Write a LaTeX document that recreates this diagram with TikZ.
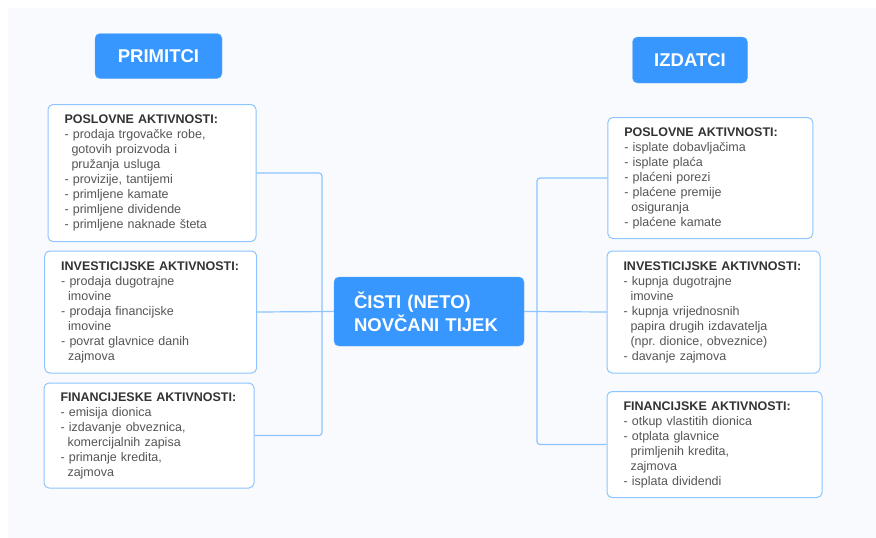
\documentclass[tikz,border=0pt]{standalone}
\usepackage{fontspec}
\setmainfont{Liberation Sans}
\usetikzlibrary{positioning}
\usetikzlibrary{calc}
\usepackage{xcolor}
\frenchspacing

\definecolor{mainblue}{HTML}{3797FF}
\definecolor{lineblue}{HTML}{8EC5FF}
\definecolor{panelbg}{HTML}{F8FAFE}
\definecolor{headtext}{HTML}{333333}
\definecolor{bodytext}{HTML}{555555}

\newcommand{\ind}{\hspace*{7pt}}
\newcommand{\head}[1]{{\bfseries\color{headtext}#1}}

\tikzset{
  actbox/.style={draw=lineblue, line width=1pt, fill=white, rounded corners=5pt,
    align=left, inner xsep=16.5pt, inner ysep=0pt, text=bodytext,
    font=\fontsize{12.5}{15}\selectfont},
  titlebox/.style={fill=mainblue, draw=mainblue!80!white, rounded corners=5pt,
    text=white, font=\fontsize{18.5}{22.7}\selectfont\bfseries},
  link/.style={draw=lineblue, line width=1.2pt, rounded corners=3pt}
}

\begin{document}
\begin{tikzpicture}[x=1pt,y=-1pt]
      % Background
      \useasboundingbox (0,0) rectangle (876,538);
      \fill[panelbg] (8,8) rectangle (876,538);

      % Titles
      \node[titlebox, minimum width=127pt, minimum height=45pt] (prim) at (158.5,56) {PRIMITCI};
      \node[titlebox, minimum width=115pt, minimum height=46pt] (izd) at (690,60) {IZDATCI};

      % Centre
      \node[titlebox, align=left, text width=150pt, inner xsep=20pt, minimum height=69pt] (neto) at (429,311.5)
        {ČISTI (NETO)\\NOVČANI TIJEK};

      % Left side
      \node[actbox, text width=175pt, minimum height=137pt] (p1) at (152,173)
        {\head{POSLOVNE AKTIVNOSTI:}\\
         - prodaja trgovačke robe,\\
         \ind gotovih proizvoda i\\
         \ind pružanja usluga\\
         - provizije, tantijemi\\
         - primljene kamate\\
         - primljene dividende\\
         - primljene naknade šteta};
      \node[actbox, text width=179pt, minimum height=122pt] (p2) at (150.7,312)
        {\head{INVESTICIJSKE AKTIVNOSTI:}\\
         - prodaja dugotrajne\\
         \ind imovine\\
         - prodaja financijske\\
         \ind imovine\\
         - povrat glavnice danih\\
         \ind zajmova};
      \node[actbox, text width=177pt, minimum height=105pt] (p3) at (149,435.5)
        {\head{FINANCIJESKE AKTIVNOSTI:}\\
         - emisija dionica\\
         - izdavanje obveznica,\\
         \ind komercijalnih zapisa\\
         - primanje kredita,\\
         \ind zajmova};

      % Right side
      \node[actbox, text width=172pt, minimum height=121pt] (i1) at (710.3,178)
        {\head{POSLOVNE AKTIVNOSTI:}\\
         - isplate dobavljačima\\
         - isplate plaća\\
         - plaćeni porezi\\
         - plaćene premije\\
         \ind osiguranja\\
         - plaćene kamate};
      \node[actbox, text width=180pt, minimum height=122pt] (i2) at (713.5,312)
        {\head{INVESTICIJSKE AKTIVNOSTI:}\\
         - kupnja dugotrajne\\
         \ind imovine\\
         - kupnja vrijednosnih\\
         \ind papira drugih izdavatelja\\
         \ind (npr. dionice, obveznice)\\
         - davanje zajmova};
      \node[actbox, text width=182pt, minimum height=106pt] (i3) at (714.5,444.5)
        {\head{FINANCIJSKE AKTIVNOSTI:}\\
         - otkup vlastitih dionica\\
         - otplata glavnice\\
         \ind primljenih kredita,\\
         \ind zajmova\\
         - isplata dividendi};

      % Connectors
      \coordinate (lspine) at (322,311.5);
      \coordinate (rspine) at (537,311.5);
      \draw[link] (p1.east) -| (lspine) |- (p3.east);
      \draw[link] (p2.east) -- (neto.west);
      \draw[link] (i1.west) -| (rspine) |- (i3.west);
      \draw[link] (neto.east) -- (i2.west);
\end{tikzpicture}
\end{document}
